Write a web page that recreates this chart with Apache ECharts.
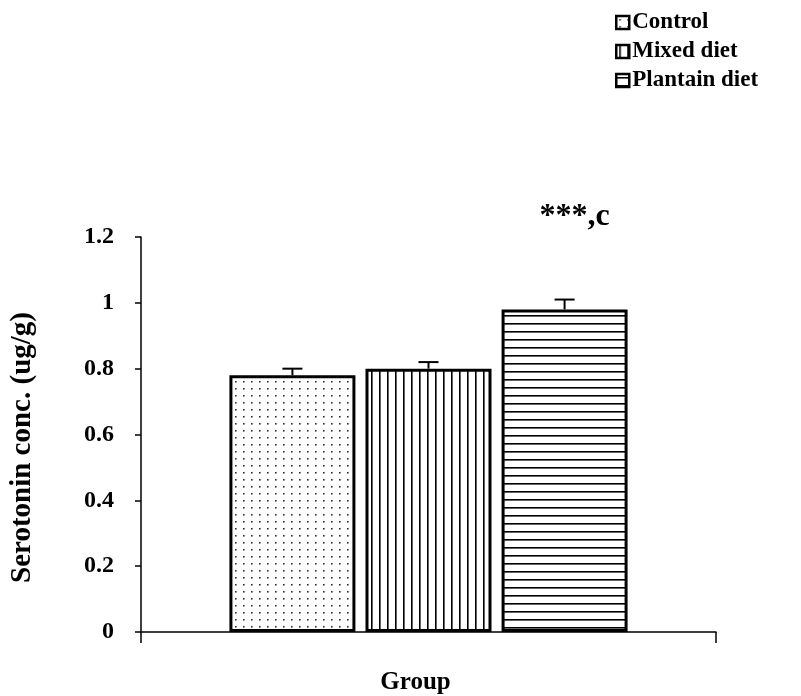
<!DOCTYPE html>
<html>
<head>
<meta charset="utf-8">
<script src="https://cdn.jsdelivr.net/npm/echarts@6.0.0/dist/echarts.min.js"></script>
<style>
  html, body { margin: 0; padding: 0; background: #fff; }
  #chart { width: 801px; height: 696px; }
</style>
</head>
<body>
<div id="chart"></div>
<script>

var groupNames = ['Control', 'Mixed diet', 'Plantain diet'];
var meanValues = [0.78, 0.80, 0.98];
var errorValues = [0.02, 0.02, 0.03];
var annotations = ['', '', '***,c'];
var xCategories = ['Group'];
var yName = 'Serotonin conc. (ug/g)';

var serif = 'Liberation Serif';
var barWidth = 126;
var barGapRatio = 0.08;


// small canvas tiles used as bar fills
const makePattern = function(kind) {
    var c = document.createElement('canvas');
    var ctx = c.getContext('2d');
    c.width = 8;
    c.height = kind == 'dots' ? 7 : 8;
    ctx.fillStyle = '#fff';
    ctx.fillRect(0, 0, c.width, c.height);
    if (kind == 'dots') {
        ctx.fillStyle = '#333';
        ctx.fillRect(3, 3, 1.6, 1.6);
    } else if (kind == 'vertical') {
        ctx.fillStyle = '#000';
        ctx.fillRect(3, 0, 1.6, c.height);
    } else {
        ctx.fillStyle = '#000';
        ctx.fillRect(0, 3, c.width, 1.6);
    }
    return {image: c, repeat: 'repeat'};
}

var patterns = [makePattern('dots'), makePattern('vertical'), makePattern('horizontal')];

var series = groupNames.map(function(name, i) {
    return {
        name: name,
        type: 'bar',
        data: [meanValues[i]],
        barWidth: barWidth,
        barGap: (barGapRatio * 100) + '%',
        itemStyle: {color: patterns[i], borderColor: '#000', borderWidth: 3},
        label: {
            show: annotations[i] !== '',
            position: 'top',
            distance: 77,
            offset: [10, 0],
            formatter: annotations[i],
            fontFamily: serif,
            fontWeight: 'bold',
            fontSize: 32,
            color: '#000'
        },
        z: 2
    };
});

// error bars, shifted to the centre of each bar in the group
series.push({
    name: 'error',
    type: 'custom',
    data: meanValues.map(function(m, i) { return [0, m, errorValues[i], i]; }),
    renderItem: function(params, api) {
        var base = api.coord([api.value(0), api.value(1)]);
        var top = api.coord([api.value(0), api.value(1) + api.value(2)]);
        var dx = (api.value(3) - 1) * barWidth * (1 + barGapRatio);
        var x = base[0] + dx;
        var style = {stroke: '#000', lineWidth: 2};
        return {
            type: 'group',
            children: [
                {type: 'line', shape: {x1: x, y1: base[1], x2: x, y2: top[1]}, style: style},
                {type: 'line', shape: {x1: x - 10, y1: top[1], x2: x + 10, y2: top[1]}, style: style}
            ]
        };
    },
    z: 3
});

var option = {
    animation: false,
    backgroundColor: '#fff',
    grid: {left: 133, right: 85, top: 237, bottom: 64},
    legend: {
        data: groupNames,
        orient: 'vertical',
        left: 610,
        top: 6,
        itemWidth: 13,
        itemHeight: 13,
        itemGap: 6,
        icon: 'rect',
        itemStyle: {borderWidth: 2.5, borderColor: '#000'},
        textStyle: {fontFamily: serif, fontWeight: 'bold', fontSize: 23, color: '#000', padding: [0, 0, 0, -2]}
    },
    xAxis: {
        type: 'category',
        data: xCategories,
        axisLine: {show: true, lineStyle: {color: '#000', width: 1.5}},
        axisTick: {show: true, length: 11, lineStyle: {color: '#000', width: 1.5}},
        axisLabel: {
            margin: 38,
            padding: [0, 26, 0, 0],
            fontFamily: serif, fontWeight: 'bold', fontSize: 25, color: '#000'
        }
    },
    yAxis: {
        type: 'value',
        min: 0,
        max: 1.2,
        interval: 0.2,
        name: yName,
        nameLocation: 'middle',
        nameGap: 104,
        nameTextStyle: {
            fontFamily: serif, fontWeight: 'bold', fontSize: 29, color: '#000',
            padding: [0, 0, 0, -26]
        },
        axisLine: {show: true, lineStyle: {color: '#000', width: 1.5}},
        axisTick: {show: true, length: 6, lineStyle: {color: '#000', width: 1.5}},
        splitLine: {show: false},
        axisLabel: {margin: 27, fontFamily: serif, fontWeight: 'bold', fontSize: 24, color: '#000'}
    },
    series: series
};

var myChart = echarts.init(document.getElementById('chart'));
myChart.setOption(option);
</script>
</body>
</html>
